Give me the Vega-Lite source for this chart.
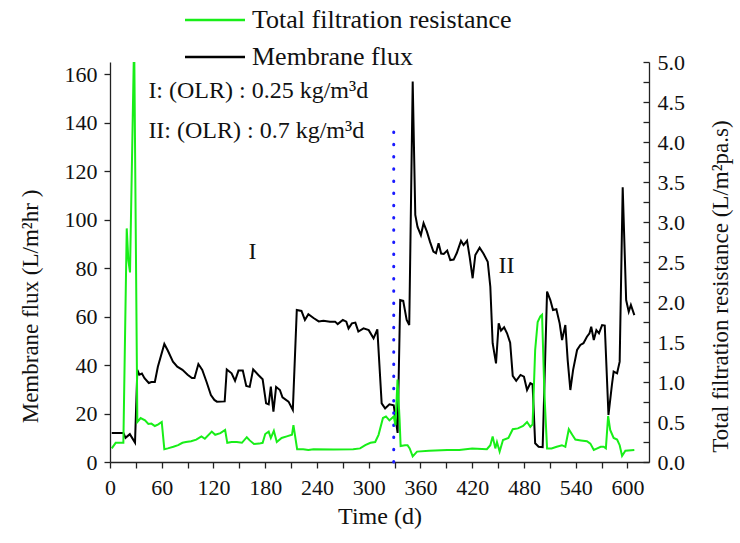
{
  "$schema": "https://vega.github.io/schema/vega-lite/v6.json",
  "width": 539,
  "height": 400,
  "autosize": {"type": "none"},
  "padding": {"left": 110, "top": 62, "right": 91, "bottom": 81},
  "background": "white",
  "config": {
    "font": "Liberation Serif",
    "view": {"stroke": null},
    "axis": {
      "grid": false,
      "domainColor": "#222",
      "tickColor": "#222",
      "labelColor": "#111",
      "titleColor": "#111",
      "labelFont": "Liberation Serif",
      "titleFont": "Liberation Serif",
      "titleFontWeight": "normal",
      "labelFontSize": 22,
      "titleFontSize": 23,
      "domainWidth": 1.3,
      "tickWidth": 1.3
    }
  },
  "datasets": {
    "flux": [
      {"d": 2, "v": 12}, {"d": 15.5, "v": 12}, {"d": 18, "v": 10}, {"d": 23, "v": 11.5}, {"d": 29, "v": 8},
      {"d": 31.7, "v": 38}, {"d": 34, "v": 36}, {"d": 37, "v": 36.5}, {"d": 40, "v": 34.6}, {"d": 45, "v": 32.6},
      {"d": 48, "v": 33}, {"d": 52, "v": 33}, {"d": 55.5, "v": 39.3}, {"d": 63, "v": 48.7}, {"d": 67, "v": 46},
      {"d": 73, "v": 41.4}, {"d": 78, "v": 39.3}, {"d": 84, "v": 38}, {"d": 90, "v": 36}, {"d": 95, "v": 34.6},
      {"d": 98, "v": 34.6}, {"d": 102.5, "v": 40.4}, {"d": 107, "v": 38}, {"d": 112, "v": 33}, {"d": 117, "v": 27.6},
      {"d": 121, "v": 25.6}, {"d": 124, "v": 24.9}, {"d": 133, "v": 25}, {"d": 135.4, "v": 38.2}, {"d": 141, "v": 36.6},
      {"d": 145, "v": 33.5}, {"d": 149, "v": 37.7}, {"d": 154, "v": 37.7}, {"d": 158, "v": 31.4}, {"d": 162, "v": 31},
      {"d": 166, "v": 38.2}, {"d": 172, "v": 35.9}, {"d": 177, "v": 34.1}, {"d": 181, "v": 24.2}, {"d": 184, "v": 23.8},
      {"d": 186.5, "v": 31.1}, {"d": 189.5, "v": 20.8}, {"d": 192.6, "v": 31}, {"d": 197, "v": 29.7}, {"d": 200, "v": 26.7},
      {"d": 207, "v": 24.9}, {"d": 212, "v": 21.5}, {"d": 216.6, "v": 62.7}, {"d": 222, "v": 62.3}, {"d": 226, "v": 58.6},
      {"d": 230, "v": 61}, {"d": 236, "v": 59.4}, {"d": 242, "v": 58}, {"d": 247.5, "v": 58.3}, {"d": 255, "v": 57.9},
      {"d": 261, "v": 57.9}, {"d": 264, "v": 56.9}, {"d": 270, "v": 58.6}, {"d": 274, "v": 57.9}, {"d": 276.6, "v": 55.1},
      {"d": 280.5, "v": 57.2}, {"d": 284.5, "v": 57.5}, {"d": 288, "v": 53.8}, {"d": 294, "v": 55.1}, {"d": 300, "v": 54.4},
      {"d": 305.6, "v": 51}, {"d": 310, "v": 54.7}, {"d": 315, "v": 24.2}, {"d": 319, "v": 22.1}, {"d": 324, "v": 23.8},
      {"d": 329, "v": 23.4}, {"d": 333.5, "v": 12}, {"d": 336.5, "v": 66.8}, {"d": 340, "v": 66.5}, {"d": 344, "v": 58.6},
      {"d": 347, "v": 56.5}, {"d": 351, "v": 156.9}, {"d": 354, "v": 101.9}, {"d": 356.6, "v": 97}, {"d": 360.5, "v": 93.6},
      {"d": 363.6, "v": 98.5}, {"d": 367.5, "v": 95}, {"d": 371, "v": 90.9}, {"d": 375, "v": 86.8}, {"d": 378, "v": 86.1},
      {"d": 381, "v": 90.2}, {"d": 384, "v": 86}, {"d": 387, "v": 85.8}, {"d": 391, "v": 87.2}, {"d": 394.6, "v": 83.3},
      {"d": 398.5, "v": 83.5}, {"d": 402, "v": 86.1}, {"d": 407, "v": 91.2}, {"d": 410, "v": 89.5}, {"d": 414, "v": 91.3},
      {"d": 417, "v": 84.7}, {"d": 420.5, "v": 75.8}, {"d": 423.6, "v": 85.4}, {"d": 428.6, "v": 88.4}, {"d": 433, "v": 86},
      {"d": 438, "v": 82.6}, {"d": 441, "v": 72.3}, {"d": 443.7, "v": 49}, {"d": 447.6, "v": 40.7}, {"d": 450.7, "v": 57.2},
      {"d": 453.4, "v": 54.2}, {"d": 457, "v": 55.6}, {"d": 460.4, "v": 53.1}, {"d": 464, "v": 49.2}, {"d": 467, "v": 35.5},
      {"d": 471, "v": 33.5}, {"d": 476, "v": 35.9}, {"d": 480, "v": 35.2}, {"d": 483.6, "v": 29.7}, {"d": 487.4, "v": 32.5},
      {"d": 490, "v": 32}, {"d": 493, "v": 7.7}, {"d": 497, "v": 6.3}, {"d": 501.7, "v": 6.1}, {"d": 506.8, "v": 70.3},
      {"d": 510.6, "v": 66.8}, {"d": 513.7, "v": 62.7}, {"d": 517.6, "v": 63}, {"d": 521.4, "v": 57.2}, {"d": 524.2, "v": 50.3},
      {"d": 528, "v": 56.5}, {"d": 530.7, "v": 42}, {"d": 533.8, "v": 29.7}, {"d": 537, "v": 38}, {"d": 541.6, "v": 46.2},
      {"d": 545.4, "v": 48.3}, {"d": 549, "v": 49}, {"d": 553, "v": 51.7}, {"d": 556, "v": 53.1}, {"d": 558, "v": 55.8},
      {"d": 561, "v": 50.3}, {"d": 564, "v": 54.4}, {"d": 567, "v": 53.1}, {"d": 570.6, "v": 56.5}, {"d": 573.7, "v": 56.3},
      {"d": 578, "v": 19.4}, {"d": 582, "v": 31.8}, {"d": 584, "v": 37.3}, {"d": 588, "v": 36.6}, {"d": 591, "v": 41.4},
      {"d": 594.5, "v": 113.3}, {"d": 598.5, "v": 66.8}, {"d": 601.5, "v": 62}, {"d": 604, "v": 64.8}, {"d": 608, "v": 60.6}
    ],
    "res": [
      {"d": 2, "v": 0.17}, {"d": 6.6, "v": 0.24}, {"d": 15.5, "v": 0.24}, {"d": 19.4, "v": 2.92}, {"d": 21.3, "v": 2.52},
      {"d": 23.2, "v": 2.37}, {"d": 28, "v": 5.3}, {"d": 31.7, "v": 0.5}, {"d": 35.5, "v": 0.55}, {"d": 40.6, "v": 0.52},
      {"d": 44.5, "v": 0.475}, {"d": 48, "v": 0.48}, {"d": 52, "v": 0.45}, {"d": 56, "v": 0.47}, {"d": 60, "v": 0.5},
      {"d": 63, "v": 0.16}, {"d": 67, "v": 0.17}, {"d": 73.5, "v": 0.19}, {"d": 79, "v": 0.21}, {"d": 84, "v": 0.24},
      {"d": 88, "v": 0.25}, {"d": 94, "v": 0.26}, {"d": 100, "v": 0.28}, {"d": 106, "v": 0.32}, {"d": 110, "v": 0.29},
      {"d": 118, "v": 0.38}, {"d": 122, "v": 0.34}, {"d": 128, "v": 0.36}, {"d": 133.5, "v": 0.4}, {"d": 136, "v": 0.24},
      {"d": 141, "v": 0.25}, {"d": 147, "v": 0.25}, {"d": 153, "v": 0.24}, {"d": 158.6, "v": 0.31}, {"d": 162, "v": 0.27},
      {"d": 167, "v": 0.225}, {"d": 173, "v": 0.23}, {"d": 177, "v": 0.24}, {"d": 180, "v": 0.35}, {"d": 184, "v": 0.38},
      {"d": 186.5, "v": 0.3}, {"d": 190, "v": 0.39}, {"d": 193.4, "v": 0.25}, {"d": 199, "v": 0.3}, {"d": 205, "v": 0.32},
      {"d": 211, "v": 0.34}, {"d": 212.7, "v": 0.46}, {"d": 217, "v": 0.16}, {"d": 224, "v": 0.16}, {"d": 230, "v": 0.15},
      {"d": 236, "v": 0.16}, {"d": 259, "v": 0.155}, {"d": 282, "v": 0.16}, {"d": 290, "v": 0.17}, {"d": 296, "v": 0.21},
      {"d": 302, "v": 0.24}, {"d": 307.5, "v": 0.25}, {"d": 311.4, "v": 0.34}, {"d": 316.5, "v": 0.55}, {"d": 320, "v": 0.57},
      {"d": 324, "v": 0.52}, {"d": 329, "v": 0.57}, {"d": 331, "v": 0.46}, {"d": 333.4, "v": 1.03}, {"d": 335.8, "v": 0.53},
      {"d": 337, "v": 0.2}, {"d": 342, "v": 0.21}, {"d": 345, "v": 0.21}, {"d": 347.5, "v": 0.17}, {"d": 351, "v": 0.07},
      {"d": 356, "v": 0.13}, {"d": 370, "v": 0.14}, {"d": 391, "v": 0.15}, {"d": 405, "v": 0.15}, {"d": 420, "v": 0.17},
      {"d": 437, "v": 0.16}, {"d": 441, "v": 0.21}, {"d": 443.7, "v": 0.32}, {"d": 446.8, "v": 0.17}, {"d": 448.7, "v": 0.25},
      {"d": 451.8, "v": 0.13}, {"d": 455.7, "v": 0.275}, {"d": 462, "v": 0.3}, {"d": 467, "v": 0.41}, {"d": 473, "v": 0.42},
      {"d": 479, "v": 0.45}, {"d": 483.6, "v": 0.5}, {"d": 487.4, "v": 0.44}, {"d": 490, "v": 0.47}, {"d": 493, "v": 1.4},
      {"d": 495.9, "v": 1.75}, {"d": 499, "v": 1.82}, {"d": 501, "v": 1.84}, {"d": 503.7, "v": 0.86}, {"d": 506.8, "v": 0.17},
      {"d": 512, "v": 0.17}, {"d": 518, "v": 0.19}, {"d": 524, "v": 0.21}, {"d": 528, "v": 0.19}, {"d": 532, "v": 0.41},
      {"d": 536, "v": 0.34}, {"d": 539.6, "v": 0.28}, {"d": 546, "v": 0.27}, {"d": 553, "v": 0.26}, {"d": 557, "v": 0.23},
      {"d": 561, "v": 0.15}, {"d": 565, "v": 0.17}, {"d": 569, "v": 0.19}, {"d": 572.5, "v": 0.19}, {"d": 575, "v": 0.17},
      {"d": 577.6, "v": 0.575}, {"d": 580, "v": 0.4}, {"d": 584, "v": 0.3}, {"d": 588, "v": 0.28}, {"d": 591, "v": 0.21},
      {"d": 593.8, "v": 0.075}, {"d": 597.6, "v": 0.14}, {"d": 608, "v": 0.15}
    ],
    "notes": [
      {"d": 44.5, "v": 153, "t": "I: (OLR) : 0.25 kg/m³d"},
      {"d": 44.5, "v": 136.7, "t": "II: (OLR) : 0.7 kg/m³d"},
      {"d": 160.5, "v": 86.5, "t": "I"},
      {"d": 450.5, "v": 80.7, "t": "II"}
    ],
    "divider": [{"d": 329, "v": 0, "v2": 137}]
  },
  "encoding": {
    "x": {
      "field": "d",
      "type": "quantitative",
      "scale": {"domain": [0, 625], "nice": false, "zero": false},
      "axis": {
        "title": "Time (d)",
        "titleFontSize": 24,
        "values": [0, 30, 60, 90, 120, 150, 180, 210, 240, 270, 300, 330, 360, 390, 420, 450, 480, 510, 540, 570, 600],
        "labelExpr": "datum.value % 60 === 0 ? datum.label : ''",
        "tickSize": 6,
        "labelPadding": 9,
        "titlePadding": 6,
        "labelFlush": false
      }
    }
  },
  "layer": [
    {
      "layer": [
        {
          "data": {"name": "flux"},
          "mark": {"type": "line", "strokeWidth": 2, "clip": true},
          "encoding": {
            "y": {
              "field": "v",
              "type": "quantitative",
              "scale": {"domain": [0, 165], "nice": false},
              "axis": {
                "title": "Membrane flux (L/m²hr )",
                "titleY": 244,
                "values": [0, 10, 20, 30, 40, 50, 60, 70, 80, 90, 100, 110, 120, 130, 140, 150, 160],
                "labelExpr": "datum.value % 20 === 0 ? datum.label : ''",
                "tickSize": 6,
                "labelPadding": 7,
                "titlePadding": 22,
                "labelFlush": false
              }
            },
            "color": {
              "datum": "Membrane flux",
              "type": "nominal",
              "scale": {"domain": ["Total filtration resistance", "Membrane flux"], "range": ["#18ee18", "#000000"]},
              "legend": {
                "orient": "none",
                "legendX": 92,
                "legendY": -55,
                "padding": 0,
                "title": null,
                "symbolType": "M-3,0H3",
                "symbolSize": 400,
                "symbolStrokeWidth": 2.5,
                "labelFont": "Liberation Serif",
                "labelFontSize": 26,
                "labelColor": "#111",
                "labelOffset": 24,
                "rowPadding": 11,
                "labelLimit": 400
              }
            }
          }
        },
        {
          "data": {"name": "divider"},
          "mark": {"type": "rule", "color": "#1a1aff", "strokeWidth": 3, "strokeDash": [0.5, 11.7], "strokeCap": "round"},
          "encoding": {
            "y": {"field": "v", "type": "quantitative"},
            "y2": {"field": "v2"}
          }
        },
        {
          "data": {"name": "notes"},
          "mark": {"type": "text", "align": "left", "baseline": "middle", "font": "Liberation Serif", "fontSize": 24, "color": "#111"},
          "encoding": {
            "y": {"field": "v", "type": "quantitative"},
            "text": {"field": "t"}
          }
        }
      ]
    },
    {
      "data": {"name": "res"},
      "mark": {"type": "line", "strokeWidth": 2, "clip": true},
      "encoding": {
        "y": {
          "field": "v",
          "type": "quantitative",
          "scale": {"domain": [0, 5], "nice": false},
          "axis": {
            "orient": "right",
            "title": "Total filtration resistance (L/m²pa.s)",
            "titleAngle": 270,
            "titleY": 224,
            "values": [0, 0.25, 0.5, 0.75, 1, 1.25, 1.5, 1.75, 2, 2.25, 2.5, 2.75, 3, 3.25, 3.5, 3.75, 4, 4.25, 4.5, 4.75, 5],
            "format": ".1f",
            "labelExpr": "round(datum.value * 4) % 2 === 0 ? datum.label : ''",
            "tickSize": -6,
            "labelPadding": 14,
            "titlePadding": 48,
            "labelFlush": false
          }
        },
        "color": {"datum": "Total filtration resistance", "type": "nominal"}
      }
    }
  ],
  "resolve": {"scale": {"y": "independent"}}
}
